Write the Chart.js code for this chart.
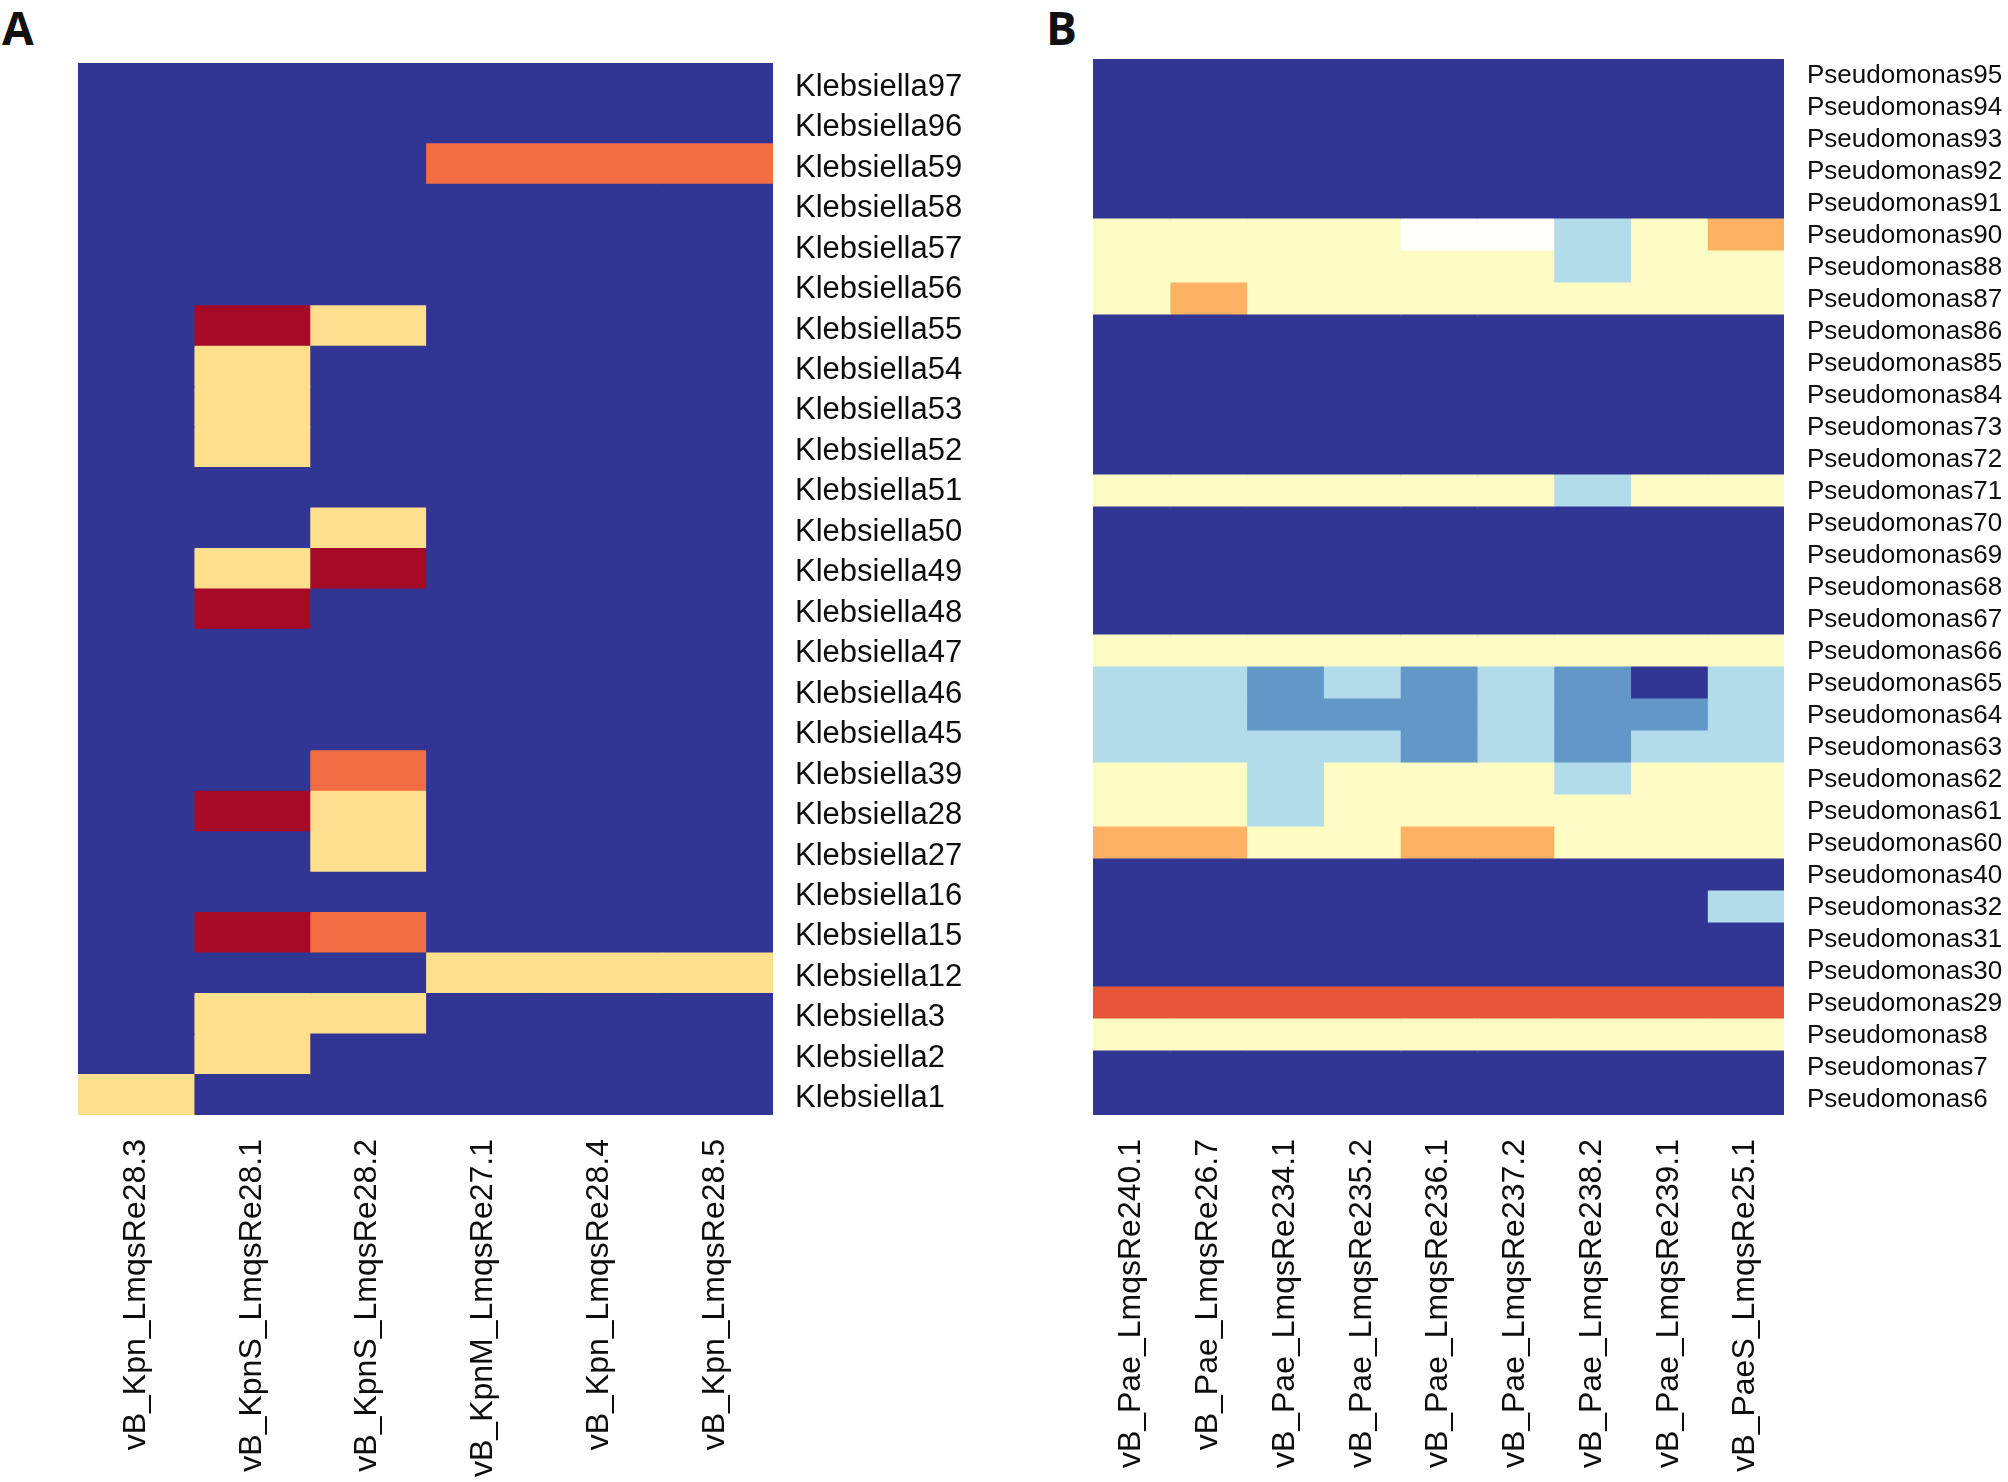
<!DOCTYPE html>
<html>
<head>
<meta charset="utf-8">
<script src="https://cdn.jsdelivr.net/npm/chart.js@4"></script>
<style>
  body { margin: 0; background: #fff; width: 2008px; height: 1482px; position: relative; overflow: hidden; }
  canvas { position: absolute; top: 0; }
  .tag { position: absolute; font: bold 46px "Open Sans", "Liberation Sans", sans-serif; color: #111; line-height: 1; }
</style>
</head>
<body>
<div class="tag" style="left:2px;top:4px">A</div>
<div class="tag" style="left:1046px;top:4px">B</div>
<canvas id="chartA" width="1000" height="1482" style="left:0"></canvas>
<canvas id="chartB" width="998" height="1482" style="left:1010px"></canvas>
<script>
// colour levels, low (dark blue) to high (dark red)
const levelColors = ["#313695", "#6297c7", "#b3dcea", "#fffffb", "#fcfbc4",
                     "#fddf8e", "#fdb263", "#f26d43", "#e8563a", "#a50a26"];

const klebCols = ["vB_Kpn_LmqsRe28.3", "vB_KpnS_LmqsRe28.1", "vB_KpnS_LmqsRe28.2",
                  "vB_KpnM_LmqsRe27.1", "vB_Kpn_LmqsRe28.4", "vB_Kpn_LmqsRe28.5"];
const klebRows = ["Klebsiella97", "Klebsiella96", "Klebsiella59", "Klebsiella58", "Klebsiella57",
                  "Klebsiella56", "Klebsiella55", "Klebsiella54", "Klebsiella53", "Klebsiella52",
                  "Klebsiella51", "Klebsiella50", "Klebsiella49", "Klebsiella48", "Klebsiella47",
                  "Klebsiella46", "Klebsiella45", "Klebsiella39", "Klebsiella28", "Klebsiella27",
                  "Klebsiella16", "Klebsiella15", "Klebsiella12", "Klebsiella3", "Klebsiella2",
                  "Klebsiella1"];
const klebLevels = [
  [0, 0, 0, 0, 0, 0],
  [0, 0, 0, 0, 0, 0],
  [0, 0, 0, 7, 7, 7],
  [0, 0, 0, 0, 0, 0],
  [0, 0, 0, 0, 0, 0],
  [0, 0, 0, 0, 0, 0],
  [0, 9, 5, 0, 0, 0],
  [0, 5, 0, 0, 0, 0],
  [0, 5, 0, 0, 0, 0],
  [0, 5, 0, 0, 0, 0],
  [0, 0, 0, 0, 0, 0],
  [0, 0, 5, 0, 0, 0],
  [0, 5, 9, 0, 0, 0],
  [0, 9, 0, 0, 0, 0],
  [0, 0, 0, 0, 0, 0],
  [0, 0, 0, 0, 0, 0],
  [0, 0, 0, 0, 0, 0],
  [0, 0, 7, 0, 0, 0],
  [0, 9, 5, 0, 0, 0],
  [0, 0, 5, 0, 0, 0],
  [0, 0, 0, 0, 0, 0],
  [0, 9, 7, 0, 0, 0],
  [0, 0, 0, 5, 5, 5],
  [0, 5, 5, 0, 0, 0],
  [0, 5, 0, 0, 0, 0],
  [5, 0, 0, 0, 0, 0]
];

const pseudoCols = ["vB_Pae_LmqsRe240.1", "vB_Pae_LmqsRe26.7", "vB_Pae_LmqsRe234.1",
                    "vB_Pae_LmqsRe235.2", "vB_Pae_LmqsRe236.1", "vB_Pae_LmqsRe237.2",
                    "vB_Pae_LmqsRe238.2", "vB_Pae_LmqsRe239.1", "vB_PaeS_LmqsRe25.1"];
const pseudoRows = ["Pseudomonas95", "Pseudomonas94", "Pseudomonas93", "Pseudomonas92",
                    "Pseudomonas91", "Pseudomonas90", "Pseudomonas88", "Pseudomonas87",
                    "Pseudomonas86", "Pseudomonas85", "Pseudomonas84", "Pseudomonas73",
                    "Pseudomonas72", "Pseudomonas71", "Pseudomonas70", "Pseudomonas69",
                    "Pseudomonas68", "Pseudomonas67", "Pseudomonas66", "Pseudomonas65",
                    "Pseudomonas64", "Pseudomonas63", "Pseudomonas62", "Pseudomonas61",
                    "Pseudomonas60", "Pseudomonas40", "Pseudomonas32", "Pseudomonas31",
                    "Pseudomonas30", "Pseudomonas29", "Pseudomonas8", "Pseudomonas7",
                    "Pseudomonas6"];
const pseudoLevels = [
  [0, 0, 0, 0, 0, 0, 0, 0, 0],
  [0, 0, 0, 0, 0, 0, 0, 0, 0],
  [0, 0, 0, 0, 0, 0, 0, 0, 0],
  [0, 0, 0, 0, 0, 0, 0, 0, 0],
  [0, 0, 0, 0, 0, 0, 0, 0, 0],
  [4, 4, 4, 4, 3, 3, 2, 4, 6],
  [4, 4, 4, 4, 4, 4, 2, 4, 4],
  [4, 6, 4, 4, 4, 4, 4, 4, 4],
  [0, 0, 0, 0, 0, 0, 0, 0, 0],
  [0, 0, 0, 0, 0, 0, 0, 0, 0],
  [0, 0, 0, 0, 0, 0, 0, 0, 0],
  [0, 0, 0, 0, 0, 0, 0, 0, 0],
  [0, 0, 0, 0, 0, 0, 0, 0, 0],
  [4, 4, 4, 4, 4, 4, 2, 4, 4],
  [0, 0, 0, 0, 0, 0, 0, 0, 0],
  [0, 0, 0, 0, 0, 0, 0, 0, 0],
  [0, 0, 0, 0, 0, 0, 0, 0, 0],
  [0, 0, 0, 0, 0, 0, 0, 0, 0],
  [4, 4, 4, 4, 4, 4, 4, 4, 4],
  [2, 2, 1, 2, 1, 2, 1, 0, 2],
  [2, 2, 1, 1, 1, 2, 1, 1, 2],
  [2, 2, 2, 2, 1, 2, 1, 2, 2],
  [4, 4, 2, 4, 4, 4, 2, 4, 4],
  [4, 4, 2, 4, 4, 4, 4, 4, 4],
  [6, 6, 4, 4, 6, 6, 4, 4, 4],
  [0, 0, 0, 0, 0, 0, 0, 0, 0],
  [0, 0, 0, 0, 0, 0, 0, 0, 2],
  [0, 0, 0, 0, 0, 0, 0, 0, 0],
  [0, 0, 0, 0, 0, 0, 0, 0, 0],
  [8, 8, 8, 8, 8, 8, 8, 8, 8],
  [4, 4, 4, 4, 4, 4, 4, 4, 4],
  [0, 0, 0, 0, 0, 0, 0, 0, 0],
  [0, 0, 0, 0, 0, 0, 0, 0, 0]
];

const $ = id => document.getElementById(id);

// one stacked horizontal dataset per column, one unit-wide cell per row
function heatmap(canvas, rows, cols, levels, box) {
  const datasets = cols.map((name, j) => ({
    label: name,
    data: rows.map(() => 1),
    backgroundColor: rows.map((_, i) => levelColors[levels[i][j]]),
    borderWidth: 0,
    inflateAmount: 0.6,
    barPercentage: 1,
    categoryPercentage: 1,
    xAxisID: "x",
    yAxisID: "y"
  }));

  return new Chart(canvas, {
    type: "bar",
    data: { labels: rows, datasets },
    options: {
      indexAxis: "y",
      responsive: false,
      animation: false,
      devicePixelRatio: 1,
      layout: { padding: { left: box.left, top: box.top, right: 0, bottom: 0 } },
      plugins: { legend: { display: false }, tooltip: { enabled: false } },
      scales: {
        x: { type: "linear", min: 0, max: cols.length, stacked: true, display: false },
        y: {
          type: "category",
          position: "right",
          stacked: true,
          offset: true,
          grid: { display: false, drawTicks: false },
          border: { display: false },
          ticks: {
            autoSkip: false,
            padding: box.rowPad,
            labelOffset: box.rowShift,
            color: "#0d0d0d",
            font: { family: "Liberation Sans, Arial, sans-serif", size: box.rowFont }
          },
          afterFit: s => { s.width = box.axisW; }
        },
        cols: {
          type: "category",
          axis: "x",
          position: "bottom",
          labels: cols,
          offset: true,
          grid: { display: false, drawTicks: false },
          border: { display: false },
          ticks: {
            autoSkip: false,
            minRotation: 90,
            maxRotation: 90,
            padding: 24,
            color: "#0d0d0d",
            font: { family: "Liberation Sans, Arial, sans-serif", size: 32 }
          },
          afterFit: s => { s.height = box.axisH; }
        }
      }
    }
  });
}

function startApp() {
  heatmap($("chartA"), klebRows, klebCols, klebLevels,
    { left: 78, top: 63, axisW: 227, axisH: 367, rowPad: 22, rowFont: 31, rowShift: 4 });
  heatmap($("chartB"), pseudoRows, pseudoCols, pseudoLevels,
    { left: 83, top: 59, axisW: 224, axisH: 367, rowPad: 23, rowFont: 26, rowShift: 1 });
}

document.readyState === "loading"
  ? document.addEventListener("DOMContentLoaded", startApp)
  : startApp();
</script>
</body>
</html>
